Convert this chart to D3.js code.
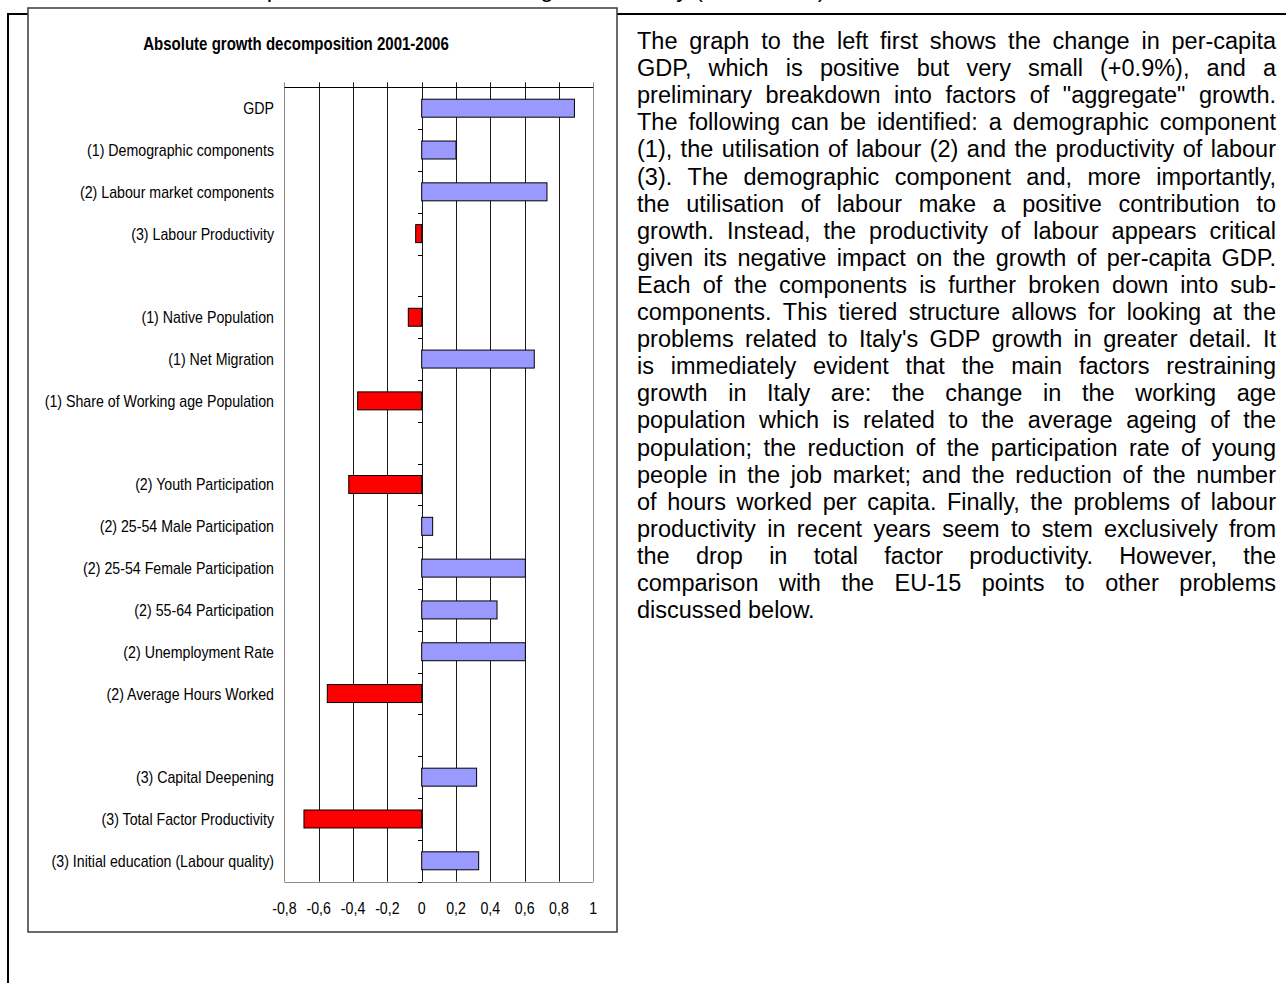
<!DOCTYPE html>
<html>
<head>
<meta charset="utf-8">
<script src="https://cdn.jsdelivr.net/npm/d3@7"></script>
<style>
  html, body { margin: 0; padding: 0; background: #fff; }
  svg { display: block; }
</style>
</head>
<body>
<svg id="page" width="1286" height="983"></svg>
<script>
// Growth decomposition of per-capita GDP, 2001-2006 (percentage points)
const categories = [
  "GDP",
  "(1) Demographic components",
  "(2) Labour market components",
  "(3) Labour Productivity",
  "",
  "(1) Native Population",
  "(1) Net Migration",
  "(1) Share of Working age Population",
  "",
  "(2) Youth Participation",
  "(2) 25-54 Male Participation",
  "(2) 25-54 Female Participation",
  "(2) 55-64 Participation",
  "(2) Unemployment Rate",
  "(2) Average Hours Worked",
  "",
  "(3) Capital Deepening",
  "(3) Total Factor Productivity",
  "(3) Initial education (Labour quality)"
];
const values = [
  0.89, 0.20, 0.73, -0.035,
  null,
  -0.078, 0.656, -0.373,
  null,
  -0.425, 0.064, 0.604, 0.439, 0.604, -0.55,
  null,
  0.32, -0.686, 0.332
];
const tickValues = [-0.8, -0.6, -0.4, -0.2, 0, 0.2, 0.4, 0.6, 0.8, 1];
const tickLabels = ["-0,8", "-0,6", "-0,4", "-0,2", "0", "0,2", "0,4", "0,6", "0,8", "1"];
const chartTitle = "Absolute growth decomposition 2001-2006";
const pageHeading = "Box 1: Decomposition of the sources of growth in Italy (2001-2006)";

const paragraph = [
  "The graph to the left first shows the change in per-capita",
  "GDP, which is positive but very small (+0.9%), and a",
  "preliminary breakdown into factors of \"aggregate\" growth.",
  "The following can be identified: a demographic component",
  "(1), the utilisation of labour (2) and the productivity of labour",
  "(3).  The demographic component and, more importantly,",
  "the utilisation of labour make a positive contribution to",
  "growth.  Instead, the productivity of labour appears critical",
  "given its negative impact on the growth of per-capita GDP.",
  "Each of the components is further broken down into sub-",
  "components. This tiered structure allows for looking at the",
  "problems related to Italy's GDP growth in greater detail.  It",
  "is immediately evident that the main factors restraining",
  "growth in Italy are: the change in the working age",
  "population which is related to the average ageing of the",
  "population; the reduction of the participation rate of young",
  "people in the job market; and the reduction of the number",
  "of hours worked per capita. Finally, the problems of labour",
  "productivity in recent years seem to stem exclusively from",
  "the drop in total factor productivity.  However, the",
  "comparison with the EU-15 points to other problems",
  "discussed below."
];

const svg = d3.select("#page");
const SANS = "'Liberation Sans', Arial, sans-serif";
const NARROW_X = 0.835; // horizontal condensing for the chart's narrow lettering

// Text drawn with a condensed horizontal scale
function narrowText(parent, x, y, str, opts) {
  const grp = parent.append("g")
    .attr("transform", `translate(${x},${y}) scale(${NARROW_X},1)`);
  grp.append("text")
    .attr("text-anchor", opts.anchor || "start")
    .attr("dy", opts.dy || 0)
    .attr("font-family", SANS)
    .attr("font-size", opts.size)
    .attr("font-weight", opts.weight || "normal")
    .text(str);
  return grp;
}

// Heading of the page, sitting just above the visible area
const heading = svg.append("text")
  .attr("x", 0).attr("y", -3.5)
  .attr("font-family", SANS).attr("font-size", 24)
  .text(pageHeading);
{
  const paren = pageHeading.indexOf("(");
  const off = heading.node().getStartPositionOfChar(paren).x;
  heading.attr("x", 695 - off);
}

// Outer frame of the page section
svg.append("line").attr("x1", 8).attr("x2", 1286).attr("y1", 14).attr("y2", 14)
  .attr("stroke", "#000").attr("stroke-width", 2);
svg.append("line").attr("x1", 8).attr("x2", 8).attr("y1", 13).attr("y2", 983)
  .attr("stroke", "#000").attr("stroke-width", 2);

// Chart container
svg.append("rect").attr("x", 28).attr("y", 8).attr("width", 589).attr("height", 924)
  .attr("fill", "#fff").attr("stroke", "#3a3a3a").attr("stroke-width", 1.5);

narrowText(svg, 296, 50, chartTitle, { anchor: "middle", size: 18, weight: "bold" });

const plot = { left: 284.4, right: 593.3, top: 87.3, bottom: 881.7 };

const x = d3.scaleLinear().domain([-0.8, 1]).range([plot.left, plot.right]);
const y = d3.scaleBand().domain(d3.range(categories.length))
  .range([plot.top, plot.bottom]).paddingInner(0).paddingOuter(0);
const barH = y.bandwidth() * 0.43;

const g = svg.append("g");

// Vertical gridlines with short ticks above the plot
g.selectAll("line.grid").data(tickValues).join("line")
  .attr("class", "grid")
  .attr("x1", d => Math.round(x(d)) + 0.5).attr("x2", d => Math.round(x(d)) + 0.5)
  .attr("y1", plot.top - 5).attr("y2", plot.bottom)
  .attr("stroke", (d, i) => (i === 0 || i === tickValues.length - 1) ? "#8c8c8c" : "#1a1a1a")
  .attr("stroke-width", 1);

// Plot border: gray bottom, black top axis
g.append("line").attr("x1", x(-0.8)).attr("x2", x(1))
  .attr("y1", Math.round(plot.bottom) + 0.5).attr("y2", Math.round(plot.bottom) + 0.5)
  .attr("stroke", "#8c8c8c");
g.append("line").attr("x1", x(-0.8)).attr("x2", x(1))
  .attr("y1", Math.round(plot.top) + 0.5).attr("y2", Math.round(plot.top) + 0.5)
  .attr("stroke", "#000");

// Category ticks on the zero axis
const bounds = d3.range(categories.length + 1).map(i => plot.top + i * y.step());
g.selectAll("line.ctick").data(bounds).join("line")
  .attr("class", "ctick")
  .attr("x1", Math.round(x(0)) - 4).attr("x2", Math.round(x(0)))
  .attr("y1", d => Math.round(d) + 0.5).attr("y2", d => Math.round(d) + 0.5)
  .attr("stroke", "#000");

// Bars
const rows = categories.map((c, i) => ({ i, label: c, v: values[i] }));
g.selectAll("rect.bar").data(rows.filter(r => r.v !== null)).join("rect")
  .attr("class", "bar")
  .attr("x", d => x(Math.min(0, d.v)))
  .attr("width", d => Math.abs(x(d.v) - x(0)))
  .attr("y", d => y(d.i) + (y.bandwidth() - barH) / 2)
  .attr("height", barH)
  .attr("fill", d => d.v < 0 ? "#ff0000" : "#9999ff")
  .attr("stroke", "#000").attr("stroke-width", 1);

// Category labels
rows.filter(r => r.label).forEach(d => {
  narrowText(g, 274, y(d.i) + y.bandwidth() / 2, d.label,
    { anchor: "end", size: 17, dy: "0.35em" });
});

// Value axis labels
tickValues.forEach((v, i) => {
  narrowText(g, x(v), 908, tickLabels[i], { anchor: "middle", size: 17, dy: "0.35em" });
});

// Justified commentary to the right of the chart
const para = svg.append("g")
  .attr("font-family", SANS).attr("font-size", 23.5).attr("fill", "#000");
const colLeft = 637, colRight = 1276, lineStep = 27.1, firstBase = 49;
paragraph.forEach((line, li) => {
  const words = line.split(/\s+/);
  const by = firstBase + li * lineStep;
  const last = li === paragraph.length - 1;
  const nodes = words.map(w => para.append("text").attr("y", by).text(w));
  const widths = nodes.map(n => n.node().getComputedTextLength());
  const total = d3.sum(widths);
  const space = last || words.length < 2 ? 6.5 : (colRight - colLeft - total) / (words.length - 1);
  let cx = colLeft;
  nodes.forEach((n, k) => { n.attr("x", cx); cx += widths[k] + space; });
});
</script>
</body>
</html>
